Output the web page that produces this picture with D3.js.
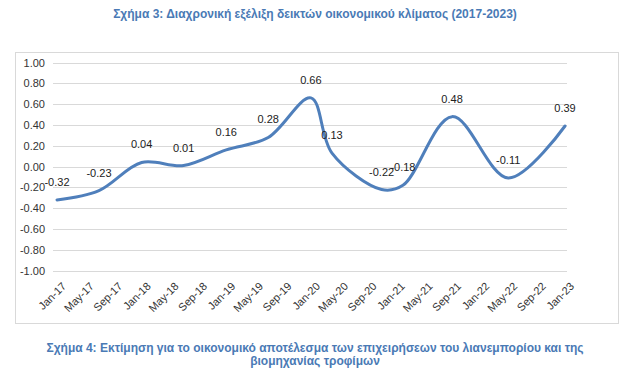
<!DOCTYPE html>
<html>
<head>
<meta charset="utf-8">
<script src="https://cdn.jsdelivr.net/npm/d3@7"></script>
<style>
  html, body { margin: 0; padding: 0; background: #fff; }
  svg { display: block; }
</style>
</head>
<body>
<svg id="chart" width="642" height="389"></svg>
<script>
// ---- Data ----
const pointDates = ["2017-01","2017-07","2018-01","2018-07","2019-01","2019-07","2020-01","2020-04","2020-11","2021-02","2021-09","2022-05","2023-01"];
const pointValues = [-0.32, -0.23, 0.04, 0.01, 0.16, 0.28, 0.66, 0.13, -0.22, -0.18, 0.48, -0.11, 0.39];
const tickDates = ["2017-01","2017-05","2017-09","2018-01","2018-05","2018-09","2019-01","2019-05","2019-09","2020-01","2020-05","2020-09","2021-01","2021-05","2021-09","2022-01","2022-05","2022-09","2023-01"];
const tickLabels = ["Jan-17","May-17","Sep-17","Jan-18","May-18","Sep-18","Jan-19","May-19","Sep-19","Jan-20","May-20","Sep-20","Jan-21","May-21","Sep-21","Jan-22","May-22","Sep-22","Jan-23"];
const yTicks = [1.0, 0.8, 0.6, 0.4, 0.2, 0.0, -0.2, -0.4, -0.6, -0.8, -1.0];
const titleText = "Σχήμα 3: Διαχρονική εξέλιξη δεικτών οικονομικού κλίματος (2017-2023)";
const captionLines = ["Σχήμα 4: Εκτίμηση για το οικονομικό αποτέλεσμα των επιχειρήσεων του λιανεμπορίου και της", "βιομηχανίας τροφίμων"];

// ---- Setup ----
const parse = d3.timeParse("%Y-%m");
const svg = d3.select("#chart");
const blue = "#4a7ab5";
const font = "'Liberation Sans', Arial, sans-serif";

const x = d3.scaleTime()
  .domain([parse("2017-01"), parse("2023-01")])
  .range([57, 565]);
const y = d3.scaleLinear().domain([-1, 1]).range([270.7, 62.5]);

// chart frame
svg.append("rect")
  .attr("x", 15.5).attr("y", 52.5).attr("width", 603).attr("height", 271)
  .attr("fill", "none").attr("stroke", "#d9d9d9").attr("stroke-width", 1);

// title
svg.append("text")
  .attr("x", 315).attr("y", 18)
  .attr("text-anchor", "middle")
  .attr("font-family", font).attr("font-weight", "bold").attr("font-size", 12)
  .attr("fill", blue)
  .text(titleText);

// gridlines
svg.append("g").selectAll("line").data(yTicks).join("line")
  .attr("x1", 53).attr("x2", 567)
  .attr("y1", d => Math.round(y(d)) + 0.5).attr("y2", d => Math.round(y(d)) + 0.5)
  .attr("stroke", "#d9d9d9").attr("stroke-width", 1);

// y axis labels
svg.append("g").selectAll("text").data(yTicks).join("text")
  .attr("x", 45).attr("y", d => y(d) + 4)
  .attr("text-anchor", "end")
  .attr("font-family", font).attr("font-size", 11).attr("fill", "#333")
  .text(d => d3.format(".2f")(d).replace("−", "-"));

// x axis labels
svg.append("g").selectAll("text").data(tickDates).join("text")
  .attr("transform", d => `translate(${x(parse(d)) + 4},${281}) rotate(-45)`)
  .attr("text-anchor", "end")
  .attr("dy", "0.75em")
  .attr("font-family", font).attr("font-size", 11).attr("fill", "#333")
  .text((d, i) => tickLabels[i]);

// line
const pts = pointDates.map((d, i) => ({ date: parse(d), value: pointValues[i] }));
const line = d3.line()
  .x(d => x(d.date)).y(d => y(d.value))
  .curve(d3.curveCatmullRom.alpha(0.5));
svg.append("path").datum(pts)
  .attr("d", line)
  .attr("fill", "none").attr("stroke", "#4f7fbb").attr("stroke-width", 3)
  .attr("stroke-linejoin", "round").attr("stroke-linecap", "round");

// data labels
svg.append("g").selectAll("text").data(pts).join("text")
  .attr("x", d => x(d.date))
  .attr("y", d => y(d.value) - 14)
  .attr("text-anchor", "middle")
  .attr("font-family", font).attr("font-size", 11).attr("fill", "#222")
  .text(d => d3.format(".2f")(d.value).replace("−", "-"));

// caption
svg.append("g").selectAll("text").data(captionLines).join("text")
  .attr("x", 315).attr("y", (d, i) => 352 + i * 13)
  .attr("text-anchor", "middle")
  .attr("font-family", "'Liberation Sans Narrow', 'Liberation Sans', Arial, sans-serif")
  .attr("font-weight", "bold").attr("font-size", 12)
  .attr("fill", blue)
  .text(d => d);
</script>
</body>
</html>
